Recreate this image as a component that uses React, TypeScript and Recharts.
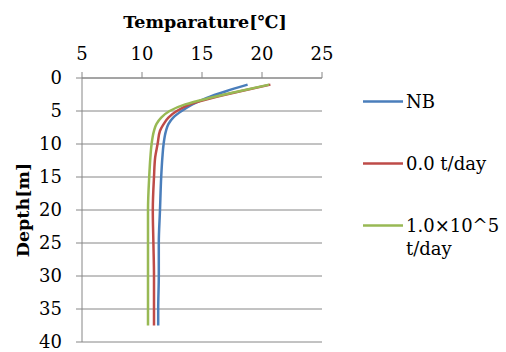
import { LineChart, Line, XAxis, YAxis, CartesianGrid, Legend, Label } from "recharts";

// depth [m] of each sample point
const depth = [1, 2, 3, 4, 5, 6, 7, 8, 10, 12, 15, 20, 25, 30, 35, 37.5];
// temperature [°C] per series
const nb = [18.8, 17.0, 15.4, 14.2, 13.3, 12.6, 12.2, 12.0, 11.8, 11.7, 11.6, 11.5, 11.4, 11.4, 11.35, 11.35];
const zeroLoad = [20.7, 18.2, 15.9, 14.0, 12.9, 12.2, 11.8, 11.5, 11.3, 11.1, 11.0, 10.9, 10.95, 11.0, 11.0, 11.0];
const highLoad = [20.6, 18.1, 15.7, 13.6, 12.3, 11.6, 11.2, 11.0, 10.8, 10.7, 10.6, 10.5, 10.5, 10.5, 10.5, 10.5];

const tempTicks = [5, 10, 15, 20, 25];
const depthTicks = [0, 5, 10, 15, 20, 25, 30, 35, 40];

const series = [
  { key: "nb", name: "NB", color: "#4A7EBB" },
  { key: "zero", name: "0.0 t/day", color: "#BE4B48" },
  { key: "high", name: "1.0×10^5 t/day", color: "#98B954" },
];

const data = depth.map((d, i) => ({
  depth: d,
  nb: nb[i],
  zero: zeroLoad[i],
  high: highLoad[i],
}));

const FONT = "'DejaVu Serif', serif";
const AXIS = "#868686";

function TempTitle(props: any) {
  const { viewBox } = props;
  const cx = viewBox.x + viewBox.width / 2 + 3;
  return (
    <text x={cx} y={22} textAnchor="middle" dominantBaseline="central"
      style={{ fontFamily: FONT, fontSize: 17.5, fontWeight: "bold" }} fill="#000">
      Temparature[℃]
    </text>
  );
}

function DepthTitle(props: any) {
  const { viewBox } = props;
  const cx = 23;
  const cy = viewBox.y + viewBox.height / 2;
  return (
    <text x={cx} y={cy} transform={`rotate(-90 ${cx} ${cy})`} textAnchor="middle"
      dominantBaseline="central" style={{ fontFamily: FONT, fontSize: 17.5, fontWeight: "bold" }} fill="#000">
      Depth[m]
    </text>
  );
}

function renderLegend() {
  return (
    <div style={{ fontFamily: FONT, fontSize: 18, color: "#000" }}>
      {series.map((s) => (
        <div key={s.key} style={{ display: "flex", alignItems: "flex-start", height: 62 }}>
          <svg width={43} height={23} style={{ flex: "none" }}>
            <line x1={0} x2={40} y1={11.5} y2={11.5} stroke={s.color} strokeWidth={2.5} />
          </svg>
          <div style={{ width: 98, lineHeight: "23px" }}>{s.name}</div>
        </div>
      ))}
    </div>
  );
}

function Tick(props: any) {
  const { x, y, payload, textAnchor, verticalAnchor } = props;
  const dy = verticalAnchor === "end" ? 0 : "0.36em";
  return (
    <text x={x} y={y} dy={dy} textAnchor={textAnchor} fill="#000"
      style={{ fontFamily: FONT, fontSize: 18 }}>
      {payload.value}
    </text>
  );
}

export default function App() {
  return (
    <div style={{ position: "absolute", left: 0, top: 0, background: "#fff" }}>
      <LineChart
        width={506}
        height={352}
        data={data}
        layout="vertical"
        margin={{ top: 0, right: 184, bottom: 10, left: 0 }}
      >
        <CartesianGrid horizontal vertical={false} stroke={AXIS} strokeWidth={1} />
        <XAxis
          type="number"
          orientation="top"
          domain={[5, 25]}
          ticks={tempTicks}
          interval={0}
          height={78}
          tickSize={6}
          tickMargin={12}
          stroke={AXIS}
          tick={<Tick />}
        >
          <Label content={TempTitle} />
        </XAxis>
        <YAxis
          type="number"
          dataKey="depth"
          domain={[0, 40]}
          ticks={depthTicks}
          interval={0}
          width={82}
          tickSize={6}
          tickMargin={14}
          stroke={AXIS}
          tick={<Tick />}
        >
          <Label content={DepthTitle} />
        </YAxis>
        <Legend
          layout="vertical"
          align="center"
          verticalAlign="middle"
          content={renderLegend}
          wrapperStyle={{ left: 363, top: 90, width: 143 }}
        />
        {series.map((s) => (
          <Line
            key={s.key}
            type="monotone"
            dataKey={s.key}
            name={s.name}
            stroke={s.color}
            strokeWidth={2.5}
            dot={false}
            isAnimationActive={false}
          />
        ))}
      </LineChart>
    </div>
  );
}
